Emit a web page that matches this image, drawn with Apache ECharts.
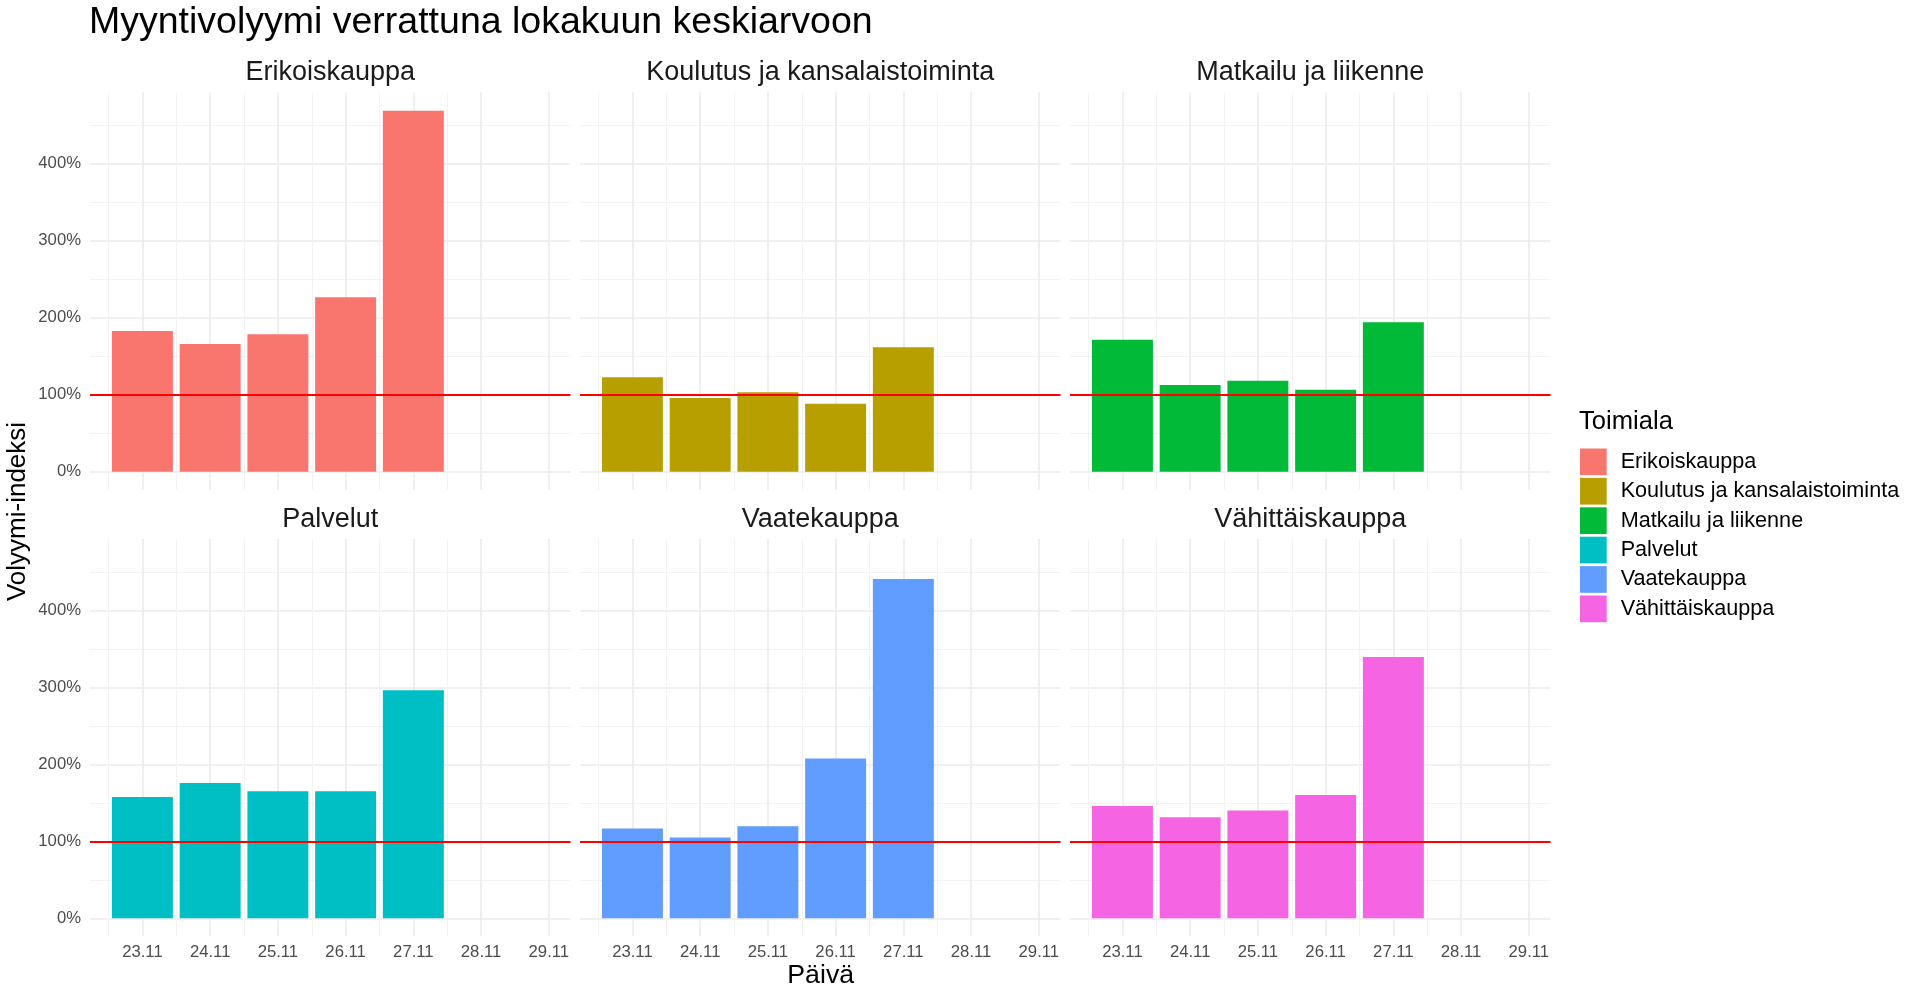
<!DOCTYPE html>
<html>
<head>
<meta charset="utf-8">
<script src="https://cdn.jsdelivr.net/npm/echarts@6/dist/echarts.min.js"></script>
<style>
  html, body { margin: 0; padding: 0; background: #ffffff; }
  #chart { width: 1920px; height: 998px; }
</style>
</head>
<body>
<div id="chart"></div>
<script>
// ---------- data ----------
const days = ['23.11', '24.11', '25.11', '26.11', '27.11', '28.11', '29.11'];
const industries = ['Erikoiskauppa', 'Koulutus ja kansalaistoiminta', 'Matkailu ja liikenne', 'Palvelut', 'Vaatekauppa', 'Vähittäiskauppa'];
const erikoiskauppa = [182.7, 165.8, 178.4, 226.5, 468.8];
const koulutus = [122.6, 95.7, 103.1, 88.3, 161.6];
const matkailu = [171.4, 112.6, 118.2, 106.5, 194.0];
const palvelut = [157.4, 175.7, 164.9, 164.9, 296.3];
const vaatekauppa = [116.5, 104.8, 119.6, 207.6, 440.7];
const vahittaiskauppa = [145.7, 131.3, 140.1, 160.1, 339.4];
const yTicks = [0, 100, 200, 300, 400];
const yMinorTicks = [50, 150, 250, 350, 450];
const referenceLevel = 100;
const colors = ['#F8766D', '#B79F00', '#00BA38', '#00BFC4', '#619CFF', '#F564E3'];

const seriesValues = [erikoiskauppa, koulutus, matkailu, palvelut, vaatekauppa, vahittaiskauppa];
const dayNum = d => Number(d.split('.')[0]);
const xTicks = days.map(dayNum);
const xMinorTicks = xTicks.slice(0, -1).map(v => v - 0.5);
const labelOf = {};
days.forEach(d => { labelOf[dayNum(d)] = d; });

// ---------- layout ----------
const FONT = '"Liberation Sans", Arial, Helvetica, sans-serif';
const colLeft = [90, 580, 1070];
const panelW = 480.5;
const rowTop = [92.5, 539.1];
const panelH = 397.3;
const X_MIN = 22.226, X_MAX = 29.32;
const Y_MIN = -23.5, Y_MAX = 492.5;
const majorLine = { color: '#EBEBEB', width: 1.6 };
const minorLine = { color: '#F2F2F2', width: 0.9 };

const grids = [], xAxes = [], yAxes = [], series = [], titles = [];

titles.push({
  text: 'Myyntivolyymi verrattuna lokakuun keskiarvoon',
  left: 89, top: 3.5, padding: 0,
  textStyle: { fontFamily: FONT, fontSize: 37.5, fontWeight: 'normal', color: '#000000' }
});

industries.forEach((name, i) => {
  const row = Math.floor(i / 3), col = i % 3;
  grids.push({ left: colLeft[col], top: rowTop[row], width: panelW, height: panelH, containLabel: false });

  // major x axis
  xAxes.push({
    type: 'value', gridIndex: i, min: X_MIN, max: X_MAX, position: 'bottom',
    axisLine: { show: false },
    axisTick: { show: false, customValues: xTicks },
    axisLabel: {
      show: row === 1, customValues: xTicks, margin: 7,
      fontFamily: FONT, fontSize: 16.7, color: '#4D4D4D',
      formatter: v => labelOf[Math.round(v)] || ''
    },
    splitLine: { show: true, lineStyle: majorLine }
  });
  // minor x axis
  xAxes.push({
    type: 'value', gridIndex: i, min: X_MIN, max: X_MAX, position: 'top',
    axisLine: { show: false },
    axisTick: { show: false, customValues: xMinorTicks },
    axisLabel: { show: false, customValues: xMinorTicks },
    splitLine: { show: true, lineStyle: minorLine }
  });
  // major y axis
  yAxes.push({
    type: 'value', gridIndex: i, min: Y_MIN, max: Y_MAX, position: 'left',
    axisLine: { show: false },
    axisTick: { show: false, customValues: yTicks },
    axisLabel: {
      show: col === 0, customValues: yTicks, margin: 9,
      fontFamily: FONT, fontSize: 16.7, color: '#4D4D4D',
      formatter: v => Math.round(v) + '%'
    },
    splitLine: { show: true, lineStyle: majorLine }
  });
  // minor y axis
  yAxes.push({
    type: 'value', gridIndex: i, min: Y_MIN, max: Y_MAX, position: 'right',
    axisLine: { show: false },
    axisTick: { show: false, customValues: yMinorTicks },
    axisLabel: { show: false, customValues: yMinorTicks },
    splitLine: { show: true, lineStyle: minorLine }
  });

  series.push({
    name: name,
    type: 'bar',
    xAxisIndex: 2 * i,
    yAxisIndex: 2 * i,
    barWidth: '90%',
    itemStyle: { color: colors[i] },
    data: seriesValues[i].map((v, k) => [dayNum(days[k]), v]),
    markLine: {
      silent: true,
      symbol: ['none', 'none'],
      label: { show: false },
      lineStyle: { color: '#FF0000', width: 2.2, type: 'solid' },
      data: [{ yAxis: referenceLevel }]
    }
  });

  titles.push({
    text: name,
    left: colLeft[col] + panelW / 2,
    top: row === 0 ? 59 : 505.8,
    textAlign: 'center',
    padding: 0,
    textStyle: { fontFamily: FONT, fontSize: 27, fontWeight: 'normal', color: '#1A1A1A' }
  });
});

titles.push({
  text: 'Toimiala',
  left: 1579, top: 408.5, padding: 0,
  textStyle: { fontFamily: FONT, fontSize: 25.6, fontWeight: 'normal', color: '#000000' }
});

const option = {
  animation: false,
  backgroundColor: '#ffffff',
  title: titles,
  grid: grids,
  xAxis: xAxes,
  yAxis: yAxes,
  series: series,
  legend: {
    data: industries,
    orient: 'vertical',
    left: 1580, top: 448.5,
    padding: 0,
    itemWidth: 26.7, itemHeight: 26.7, itemGap: 2.7,
    icon: 'rect',
    selectedMode: false,
    textStyle: { fontFamily: FONT, fontSize: 21.6, color: '#000000', padding: [0, 0, 0, 9] }
  },
  graphic: [
    {
      type: 'text', x: 17.8, y: 511.5, rotation: Math.PI / 2,
      style: { text: 'Volyymi-indeksi', font: '26px ' + FONT, fill: '#000000', align: 'center', verticalAlign: 'middle' }
    },
    {
      type: 'text', x: 820.7, y: 975.5,
      style: { text: 'Päivä', font: '26.7px ' + FONT, fill: '#000000', align: 'center', verticalAlign: 'middle' }
    }
  ]
};

const chart = echarts.init(document.getElementById('chart'), null, { renderer: 'canvas' });
chart.setOption(option);
</script>
</body>
</html>
